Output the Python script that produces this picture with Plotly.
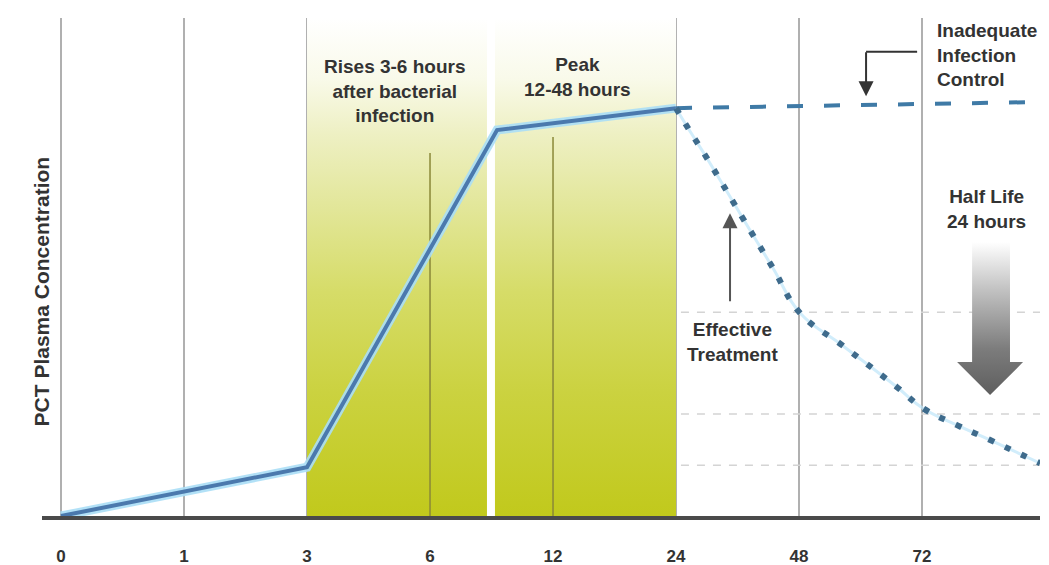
import plotly.graph_objects as go

# Time axis: evenly spaced categories (hours since infection)
tick_pos = [0, 1, 2, 3, 4, 5, 6, 7]
tick_hours = ["0", "1", "3", "6", "12", "24", "48", "72"]

# PCT plasma concentration (relative units) during rise and peak
rise_x = [0, 2, 3.545, 5]
rise_y = [0, 9.8, 77.5, 81.9]

# Inadequate infection control: concentration stays high
plateau_x = [5, 7.88]
plateau_y = [81.9, 83.1]

# Effective treatment: decline with a ~24 hour half life
decline_x = [5.0, 5.10, 5.26, 5.56, 5.79, 6.01, 6.35, 6.79, 7.01, 7.28, 7.55, 7.82, 7.96]
decline_y = [81.9, 77.8, 71.5, 59.1, 49.7, 40.7, 34.3, 26.0, 21.6, 18.3, 15.3, 12.2, 10.6]

# Successive half-life levels
halflife_levels = [40.9, 20.5, 10.2]

# Shaded phases (rise, peak)
phase_bands = [(2.0, 3.463), (3.528, 5.0)]

# Hour gridlines inside the shaded phases and where they start
inner_grid_x = [3, 4]
inner_grid_top = [72.9, 76.1]

FONT = "Liberation Sans, Arial, Helvetica, sans-serif"
TEXT = "#333333"

fig = go.Figure()

green_scale = [
    [0.0, "#c1c91c"], [0.25, "#cbd240"], [0.45, "#d6dc68"],
    [0.63, "#e3e79c"], [0.77, "#eef0c4"], [0.88, "#f9faea"], [1.0, "#ffffff"],
]
for x0, x1 in phase_bands:
    fig.add_trace(go.Scatter(
        x=[x0, x1, x1, x0, x0], y=[0, 0, 100, 100, 0],
        mode="lines", line=dict(width=0), fill="toself",
        fillgradient=dict(type="vertical", colorscale=green_scale, start=0, stop=100),
        hoverinfo="skip", showlegend=False,
    ))

# darker hour lines inside the shaded area
gx, gy = [], []
for x, top in zip(inner_grid_x, inner_grid_top):
    gx += [x, x, None]
    gy += [0, top, None]
fig.add_trace(go.Scatter(x=gx, y=gy, mode="lines",
                         line=dict(color="#8a8838", width=1.5),
                         hoverinfo="skip", showlegend=False))

# half-life reference lines
hx, hy = [], []
for lv in halflife_levels:
    hx += [5.04, 7.96, None]
    hy += [lv, lv, None]
fig.add_trace(go.Scatter(x=hx, y=hy, mode="lines",
                         line=dict(color="#d4d4d4", width=1.5, dash="8px,8px"),
                         hoverinfo="skip", showlegend=False))

# rise & peak curve with soft glow
fig.add_trace(go.Scatter(x=rise_x, y=rise_y, mode="lines",
                         line=dict(color="rgba(170,222,246,0.9)", width=9),
                         hoverinfo="skip", showlegend=False))
fig.add_trace(go.Scatter(x=rise_x, y=rise_y, mode="lines",
                         line=dict(color="#4b79ad", width=4),
                         hoverinfo="skip", showlegend=False))

# inadequate control plateau
fig.add_trace(go.Scatter(x=plateau_x, y=plateau_y, mode="lines",
                         line=dict(color="#3f7aa6", width=4, dash="16px,21px"),
                         hoverinfo="skip", showlegend=False))

# effective treatment decline
fig.add_trace(go.Scatter(x=decline_x, y=decline_y, mode="lines",
                         line=dict(color="rgba(190,230,250,0.7)", width=3, shape="spline", smoothing=1.2),
                         hoverinfo="skip", showlegend=False))
fig.add_trace(go.Scatter(x=decline_x, y=decline_y, mode="lines",
                         line=dict(color="#3e6b8c", width=6, dash="6px,12px", shape="spline", smoothing=1.2),
                         hoverinfo="skip", showlegend=False))

# half-life arrow with vertical gradient
fig.add_trace(go.Scatter(
    x=[7.407, 7.715, 7.715, 7.821, 7.553, 7.285, 7.407, 7.407],
    y=[55.0, 55.0, 30.9, 30.9, 24.3, 30.9, 30.9, 55.0],
    mode="lines", line=dict(width=0), fill="toself",
    fillgradient=dict(type="vertical",
                      colorscale=[[0, "#5e5e5e"], [0.3, "#7c7c7c"], [0.7, "#c4c4c4"], [1, "#ffffff"]],
                      start=24.3, stop=55.0),
    hoverinfo="skip", showlegend=False,
))

# elbow pointer for inadequate control
fig.add_trace(go.Scatter(x=[6.96, 6.545], y=[93.2, 93.2], mode="lines",
                         line=dict(color="#333333", width=2),
                         hoverinfo="skip", showlegend=False))

annotations = [
    dict(x=6.545, y=84.3, ax=6.545, ay=93.4, axref="x", ayref="y",
         showarrow=True, arrowhead=2, arrowsize=1.5, arrowwidth=2,
         arrowcolor="#333333", text=""),
    dict(x=5.439, y=60.8, ax=5.439, ay=42.8, axref="x", ayref="y",
         showarrow=True, arrowhead=2, arrowsize=1.5, arrowwidth=2,
         arrowcolor="#555555", text=""),
    dict(x=2.715, y=85.3, text="Rises 3-6 hours<br>after bacterial<br>infection",
         showarrow=False, align="center"),
    dict(x=4.20, y=88.1, text="Peak<br>12-48 hours", showarrow=False, align="center"),
    dict(x=7.106, y=92.6, text="Inadequate<br>Infection<br>Control",
         showarrow=False, xanchor="left", align="left"),
    dict(x=5.455, y=34.9, text="Effective<br>Treatment", showarrow=False, align="center"),
    dict(x=7.52, y=61.6, text="Half Life<br>24 hours", showarrow=False, align="center"),
    dict(xref="paper", x=-0.014, y=45.0, text="PCT Plasma Concentration", textangle=-90,
         showarrow=False, font=dict(size=21)),
]
for a in annotations:
    a.setdefault("xref", "x")
    a.setdefault("yref", "y")
    f = dict(family=FONT, size=19, color=TEXT, weight="bold")
    f.update(a.get("font", {}))
    a["font"] = f
fig.update_layout(annotations=annotations)

fig.update_layout(
    width=1049, height=565,
    margin=dict(l=42, r=9, t=18, b=49, pad=0, autoexpand=False),
    paper_bgcolor="white", plot_bgcolor="white",
    showlegend=False,
    xaxis=dict(
        range=[-0.1545, 7.959], tickvals=tick_pos, ticktext=tick_hours,
        showgrid=True, gridcolor="#b0b0b0", gridwidth=2,
        zeroline=False, showline=True, linecolor="#4a4a4a", linewidth=4,
        ticks="", ticklabelstandoff=22, automargin=False,
        tickfont=dict(family=FONT, size=17, color=TEXT, weight="bold"),
        fixedrange=True,
    ),
    yaxis=dict(range=[0, 100], showgrid=False, zeroline=False,
               showticklabels=False, showline=False, fixedrange=True,
               automargin=False),
)

fig.write_html("out.html")
